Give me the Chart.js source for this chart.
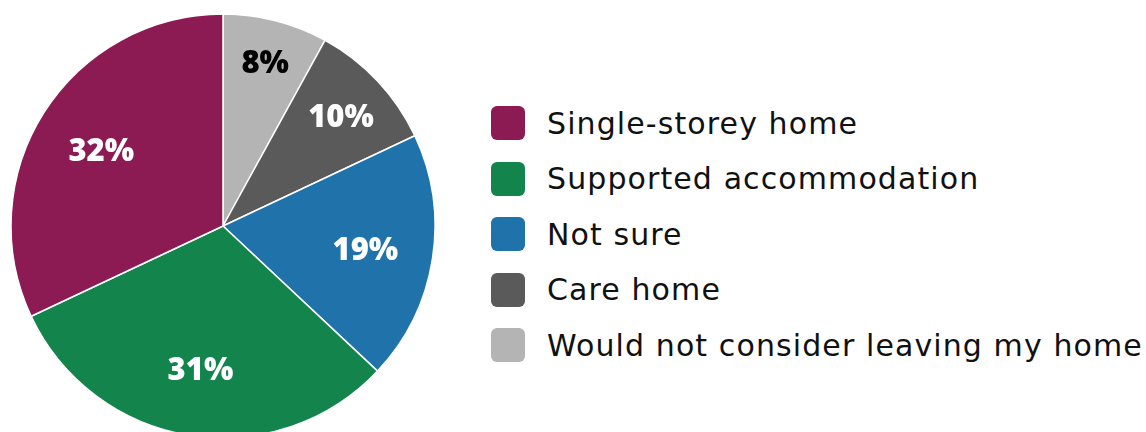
<!DOCTYPE html>
<html>
<head>
<meta charset="utf-8">
<title>Housing preferences</title>
<script src="https://cdn.jsdelivr.net/npm/chart.js@4"></script>
<style>
    html, body {
        margin: 0;
        padding: 0;
        width: 1146px;
        height: 432px;
        overflow: hidden;
        background: #fff;
    }
    #pieWrap {
        position: absolute;
        left: 0;
        top: 0;
    }
    #legend {
        position: absolute;
        left: 491px;
        top: 106px;
        margin: 0;
        padding: 0;
        list-style: none;
        font-family: "DejaVu Sans", sans-serif;
        font-size: 30px;
        letter-spacing: 1.1px;
        color: #111;
    }
    #legend li {
        display: flex;
        align-items: center;
        height: 34.5px;
        margin-bottom: 21px;
        white-space: nowrap;
    }
    #legend .swatch {
        width: 34px;
        height: 34px;
        border-radius: 6px;
        margin-right: 22px;
        flex: none;
    }
</style>
</head>
<body>
<div id="pieWrap"><canvas id="pieChart" width="446" height="452"></canvas></div>
<ul id="legend"></ul>

<script>
// slices, clockwise from 12 o'clock
const categories = [
    'Would not consider leaving my home',
    'Care home',
    'Not sure',
    'Supported accommodation',
    'Single-storey home'
];
const shares = [8, 10, 19, 31, 32];
const sliceColors = ['#b3b4b3', '#5a5a5a', '#1f73aa', '#12844c', '#8c1a53'];

// dark ink on pale slices, white elsewhere
function inkFor(hex) {
    const n = parseInt(hex.slice(1), 16);
    const r = (n >> 16) & 255, g = (n >> 8) & 255, b = n & 255;
    return (0.299 * r + 0.587 * g + 0.114 * b) > 150 ? '#000' : '#fff';
}

const sliceLabels = {
    id: 'sliceLabels',
    afterDatasetsDraw(chart) {
        const ctx = chart.ctx;
        const meta = chart.getDatasetMeta(0);
        const data = chart.data.datasets[0].data;
        ctx.save();
        ctx.font = '800 31px "Open Sans", sans-serif';
        ctx.textAlign = 'center';
        ctx.textBaseline = 'middle';
        meta.data.forEach((arc, i) => {
            const { x, y, startAngle, endAngle, outerRadius } = arc.getProps(
                ['x', 'y', 'startAngle', 'endAngle', 'outerRadius'], true);
            const mid = (startAngle + endAngle) / 2;
            const half = (endAngle - startAngle) / 2;
            // push labels of thin slices outward where there is room
            const inscribed = 1 / (1 + 1 / Math.sin(half));
            const frac = Math.max(0.68, 1 - inscribed);
            const r = outerRadius * frac;
            ctx.fillStyle = inkFor(sliceColors[i]);
            ctx.fillText(data[i] + '%', x + Math.cos(mid) * r, y + Math.sin(mid) * r + 3);
        });
        ctx.restore();
    }
};

new Chart(document.getElementById('pieChart'), {
    type: 'pie',
    data: {
        labels: categories,
        datasets: [{
            data: shares,
            backgroundColor: sliceColors,
            borderColor: '#fff',
            borderWidth: 1.5,
            hoverOffset: 0,
            radius: 212
        }]
    },
    options: {
        responsive: false,
        animation: false,
        layout: { padding: 0 },
        plugins: {
            legend: { display: false },
            tooltip: { enabled: false }
        }
    },
    plugins: [sliceLabels]
});

// legend lists the slices counter-clockwise, largest first
const legend = document.getElementById('legend');
categories.slice().reverse().forEach((name, k) => {
    const i = categories.length - 1 - k;
    const li = document.createElement('li');
    const sw = document.createElement('span');
    sw.className = 'swatch';
    sw.style.background = sliceColors[i];
    li.appendChild(sw);
    li.appendChild(document.createTextNode(name));
    legend.appendChild(li);
});
</script>
</body>
</html>
